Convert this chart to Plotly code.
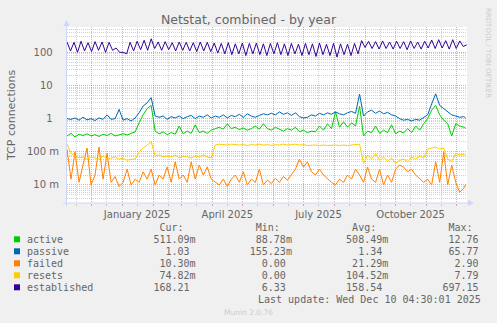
import pandas as pd
import plotly.graph_objects as go

# ---- data -------------------------------------------------------------
# four-day samples for the small connection counters
sample_dates = list(pd.date_range("2024-11-07", periods=100, freq="4D")) + [pd.Timestamp("2025-12-10")]

active = [0.30, 0.36, 0.28, 0.34, 0.31, 0.35, 0.30, 0.33, 0.29, 0.34,
          0.31, 0.36, 0.30, 0.33, 0.35, 0.32, 0.36, 0.40, 0.75, 1.30,
          2.00, 2.50, 0.42, 0.35, 0.40, 0.33, 0.38, 0.34, 0.60, 0.35,
          0.42, 0.36, 0.65, 0.38, 0.42, 0.36, 0.45, 0.50, 0.55, 0.48,
          0.70, 0.50, 0.55, 0.47, 0.52, 0.45, 0.50, 0.60, 0.48, 0.70,
          0.50, 0.45, 0.55, 0.48, 0.42, 0.50, 0.45, 0.55, 0.40, 0.45,
          0.38, 0.42, 0.40, 0.60, 0.45, 0.70, 0.50, 1.60, 0.55, 0.80,
          0.55, 0.75, 0.60, 2.40, 0.30, 0.42, 0.38, 0.60, 0.36, 0.45,
          0.38, 0.65, 0.35, 0.42, 0.37, 0.50, 0.38, 0.60, 0.45, 0.70,
          1.00, 1.80, 2.50, 1.30, 0.90, 0.70, 0.30, 0.70, 0.60, 0.55,
          0.51]

passive = [1.00, 0.95, 1.05, 0.90, 1.10, 0.92, 1.00, 0.88, 1.05, 0.95,
           1.30, 0.95, 1.00, 1.90, 0.90, 1.00, 0.85, 1.05, 1.50, 2.40,
           3.00, 4.30, 1.20, 1.10, 1.20, 0.95, 1.15, 1.05, 1.20, 1.00,
           1.15, 1.25, 1.00, 1.20, 1.10, 1.30, 1.05, 1.20, 1.10, 1.30,
           1.05, 1.25, 1.15, 1.35, 1.10, 1.40, 1.20, 1.10, 1.25, 1.40,
           1.30, 1.45, 1.30, 1.60, 1.35, 1.50, 1.25, 1.50, 1.15, 1.05,
           1.10, 1.30, 1.20, 1.45, 1.30, 1.50, 1.35, 1.60, 1.40, 1.30,
           1.50, 1.65, 1.45, 5.50, 1.20, 1.60, 1.80, 1.45, 1.70, 1.40,
           1.55, 1.30, 1.20, 1.00, 0.90, 0.95, 0.85, 0.95, 0.90, 1.10,
           1.30, 2.80, 5.60, 2.50, 2.00, 1.60, 1.30, 1.20, 1.10, 1.15,
           1.03]

failed = [0.120, 0.015, 0.100, 0.012, 0.040, 0.130, 0.010, 0.020, 0.140, 0.015,
          0.090, 0.012, 0.018, 0.009, 0.012, 0.030, 0.010, 0.015, 0.012, 0.025,
          0.015, 0.030, 0.010, 0.020, 0.015, 0.035, 0.012, 0.050, 0.015, 0.020,
          0.012, 0.050, 0.015, 0.040, 0.020, 0.035, 0.015, 0.012, 0.010, 0.015,
          0.009, 0.015, 0.020, 0.012, 0.025, 0.010, 0.015, 0.012, 0.030, 0.010,
          0.014, 0.011, 0.016, 0.012, 0.018, 0.014, 0.020, 0.030, 0.060, 0.035,
          0.050, 0.025, 0.020, 0.030, 0.020, 0.015, 0.012, 0.010, 0.015, 0.012,
          0.020, 0.015, 0.030, 0.020, 0.012, 0.035, 0.015, 0.012, 0.030, 0.010,
          0.020, 0.012, 0.030, 0.040, 0.035, 0.025, 0.030, 0.020, 0.015, 0.012,
          0.015, 0.010, 0.050, 0.012, 0.100, 0.010, 0.040, 0.012, 0.006, 0.008,
          0.0103]

resets = [0.170, 0.090, 0.075, 0.065, 0.070, 0.060, 0.070, 0.065, 0.060, 0.075,
          0.060, 0.065, 0.070, 0.060, 0.065, 0.055, 0.060, 0.060, 0.100, 0.130,
          0.160, 0.200, 0.075, 0.080, 0.070, 0.075, 0.070, 0.080, 0.065, 0.075,
          0.070, 0.065, 0.075, 0.070, 0.080, 0.070, 0.065, 0.160, 0.170, 0.165,
          0.160, 0.170, 0.165, 0.160, 0.165, 0.155, 0.165, 0.160, 0.170, 0.160,
          0.165, 0.155, 0.165, 0.160, 0.170, 0.160, 0.165, 0.170, 0.160, 0.165,
          0.155, 0.160, 0.160, 0.155, 0.160, 0.155, 0.160, 0.160, 0.155, 0.160,
          0.155, 0.160, 0.160, 0.170, 0.045, 0.080, 0.060, 0.090, 0.055, 0.070,
          0.050, 0.065, 0.045, 0.055, 0.060, 0.050, 0.070, 0.060, 0.075, 0.065,
          0.120, 0.130, 0.140, 0.120, 0.130, 0.060, 0.050, 0.090, 0.080, 0.085,
          0.07482]

# half-week samples (weekly peak / trough) for established connections
est_dates = pd.date_range("2024-11-07", periods=115, freq="84h")
established = [205, 110, 200, 100, 215, 110, 195, 105, 210, 115,
               205, 100, 200, 115, 135, 100, 100, 90, 200, 110,
               215, 120, 230, 115, 255, 130, 205, 115, 210, 120,
               195, 110, 205, 115, 200, 110, 195, 105, 205, 110,
               200, 105, 190, 95, 185, 90, 195, 85, 180, 90,
               190, 80, 185, 90, 190, 85, 180, 80, 185, 90,
               195, 85, 180, 80, 185, 90, 175, 80, 185, 85,
               180, 75, 190, 85, 175, 80, 185, 72, 180, 85,
               175, 80, 185, 90, 225, 140, 215, 130, 210, 125,
               220, 130, 205, 125, 215, 130, 210, 120, 220, 130,
               205, 125, 215, 135, 235, 130, 240, 135, 225, 125,
               240, 130, 220, 150, 168.21]

series_names = ["active", "passive", "failed", "resets", "established"]
series_colors = ["#00CC00", "#0066B3", "#FF8000", "#FFCC00", "#330099"]
series_x = [sample_dates, sample_dates, sample_dates, sample_dates, est_dates]
series_y = [active, passive, failed, resets, established]

cur_vals = [0.51109, 1.03, 0.01030, 0.07482, 168.21]
min_vals = [0.08878, 0.15523, 0.0, 0.0, 6.33]
avg_vals = [0.50849, 1.34, 0.02129, 0.10452, 158.54]
max_vals = [12.76, 65.77, 2.90, 7.79, 697.15]

y_tick_vals = [0.01, 0.1, 1, 10, 100]
y_tick_text = ["10 m", "100 m", "1\u00a0\u00a0", "10\u00a0\u00a0", "100\u00a0\u00a0"]

month_starts = pd.date_range("2024-12-01", "2025-12-01", freq="MS")
mid_months = [d + pd.Timedelta(days=15) for d in pd.date_range("2024-11-01", "2025-11-01", freq="MS")]
labelled_months = ["January 2025", "April 2025", "July 2025", "October 2025"]

last_update = "Last update: Wed Dec 10 04:30:01 2025"

# ---- layout geometry (pixels) ------------------------------------------
W, H = 497, 323
L, R, T, B = 67, 467, 27, 203
PW, PH = R - L, B - T


def px(x):
    return (x - L) / PW


def py(y):
    return (B - y) / PH


FONT = "DejaVu Sans"
MONO = "DejaVu Sans Mono"
TEXT = "#666666"
AXIS = "#CFD6F8"
MGRID = "rgba(215,60,60,0.45)"
GRID = "rgba(140,140,140,0.40)"

fig = go.Figure()
for name, color, xs, ys in zip(series_names, series_colors, series_x, series_y):
    fig.add_trace(go.Scatter(x=xs, y=ys, mode="lines", name=name,
                             line=dict(color=color, width=1), hoverinfo="skip"))

x_labels = [pd.Timestamp(d).strftime("%B %Y") if pd.Timestamp(d).strftime("%B %Y") in labelled_months else ""
            for d in mid_months]

fig.update_xaxes(
    type="date",
    range=["2024-11-07", "2025-12-11 06:00"],
    tickmode="array",
    tickvals=[d.strftime("%Y-%m-%d") for d in mid_months],
    ticktext=x_labels,
    ticks="outside", ticklen=2, tickcolor=GRID,
    showgrid=True, gridcolor=GRID, griddash="1px,1px", gridwidth=1,
    minor=dict(tickmode="array", tickvals=[d.strftime("%Y-%m-%d") for d in month_starts],
               showgrid=True, gridcolor=MGRID, griddash="1px,1px", gridwidth=1,
               ticks="outside", ticklen=2, tickcolor=MGRID),
    showline=False, zeroline=False,
    tickfont=dict(family=FONT, size=10, color=TEXT),
    fixedrange=True,
)

minor_y = [m * 10.0 ** e for e in range(-3, 3) for m in range(2, 10)]
fig.update_yaxes(
    type="log",
    range=[-2.543, 2.763],
    tickmode="array",
    tickvals=y_tick_vals,
    ticktext=y_tick_text,
    ticks="",
    ticklabelstandoff=7,
    showgrid=True, gridcolor=MGRID, griddash="1px,1px", gridwidth=1,
    minor=dict(tickmode="array", tickvals=minor_y, showgrid=True,
               gridcolor=GRID, griddash="1px,1px", gridwidth=1),
    showline=False, zeroline=False,
    tickfont=dict(family=FONT, size=10, color=TEXT),
    fixedrange=True,
)

shapes = []
# axis lines with arrow heads
shapes.append(dict(type="line", xref="paper", yref="paper",
                   x0=px(66.5), x1=px(66.5), y0=py(206), y1=py(24),
                   line=dict(color=AXIS, width=1)))
shapes.append(dict(type="line", xref="paper", yref="paper",
                   x0=px(63), x1=px(470), y0=py(203), y1=py(203),
                   line=dict(color=AXIS, width=1)))
shapes.append(dict(type="path", xref="paper", yref="paper",
                   path=f"M {px(66.5)} {py(20)} L {px(63.5)} {py(26)} L {px(69.5)} {py(26)} Z",
                   fillcolor=AXIS, line=dict(width=0)))
shapes.append(dict(type="path", xref="paper", yref="paper",
                   path=f"M {px(474)} {py(203)} L {px(468)} {py(200)} L {px(468)} {py(206)} Z",
                   fillcolor=AXIS, line=dict(width=0)))

annotations = []
# y axis title
annotations.append(dict(text="TCP connections", xref="paper", yref="paper",
                        x=px(11), y=py(115), textangle=-90, showarrow=False,
                        font=dict(family=FONT, size=11, color=TEXT),
                        xanchor="center", yanchor="middle"))
# vertical watermark
annotations.append(dict(text="RRDTOOL / TOBI OETIKER", xref="paper", yref="paper",
                        x=px(488), y=py(53), textangle=90, showarrow=False,
                        font=dict(family=FONT, size=7, color="#cccccc"),
                        xanchor="center", yanchor="middle"))
annotations.append(dict(text="Munin 2.0.76", xref="paper", yref="paper",
                        x=px(248), y=py(312), showarrow=False,
                        font=dict(family=FONT, size=7.5, color="#cccccc"),
                        xanchor="center", yanchor="middle"))


def fmt(v):
    if v != 0 and abs(v) < 1:
        return f"{v * 1000:.2f}m"
    return f"{v:.2f} "


def mono(s):
    return s.replace(" ", "\u00a0")


LEG_X = 26.3
ROW0 = 227.3
ROW_H = 12.0
CHAR_ENDS = [28, 44, 60, 76]

header = ""
for end, h in zip([26, 42, 58, 74], ["Cur:", "Min:", "Avg:", "Max:"]):
    header = header.ljust(end - len(h)) + h
annotations.append(dict(text=mono(header), xref="paper", yref="paper",
                        x=px(LEG_X), y=py(ROW0), showarrow=False, borderpad=0,
                        font=dict(family=MONO, size=10, color=TEXT),
                        xanchor="left", yanchor="middle"))

for i, (name, color) in enumerate(zip(series_names, series_colors)):
    row_y = ROW0 + ROW_H * (i + 1)
    line = name
    for end, v in zip(CHAR_ENDS, [cur_vals[i], min_vals[i], avg_vals[i], max_vals[i]]):
        t = fmt(v)
        line = line.ljust(end - len(t)) + t
    annotations.append(dict(text=mono(line), xref="paper", yref="paper",
                            x=px(LEG_X), y=py(row_y), showarrow=False, borderpad=0,
                            font=dict(family=MONO, size=10, color=TEXT),
                            xanchor="left", yanchor="middle"))
    shapes.append(dict(type="rect", xref="paper", yref="paper",
                       x0=px(14), x1=px(20), y0=py(row_y + 3), y1=py(row_y - 3),
                       fillcolor=color, line=dict(width=0)))

annotations.append(dict(text=mono(last_update), xref="paper", yref="paper",
                        x=px(482.3), y=py(ROW0 + ROW_H * 6), showarrow=False, borderpad=0,
                        font=dict(family=MONO, size=10, color=TEXT),
                        xanchor="right", yanchor="middle"))

fig.update_layout(
    width=W, height=H,
    margin=dict(l=L, r=W - R, t=T, b=H - B, pad=0),
    paper_bgcolor="#F0F0F0",
    plot_bgcolor="#FFFFFF",
    showlegend=False,
    hovermode=False,
    title=dict(text="Netstat, combined - by year", x=0.5, xref="container",
               y=1 - 19.3 / H, yref="container", xanchor="center", yanchor="middle",
               font=dict(family=FONT, size=12.5, color=TEXT)),
    shapes=shapes,
    annotations=annotations,
)

fig.write_html("out.html", config=dict(displayModeBar=False, staticPlot=True))
